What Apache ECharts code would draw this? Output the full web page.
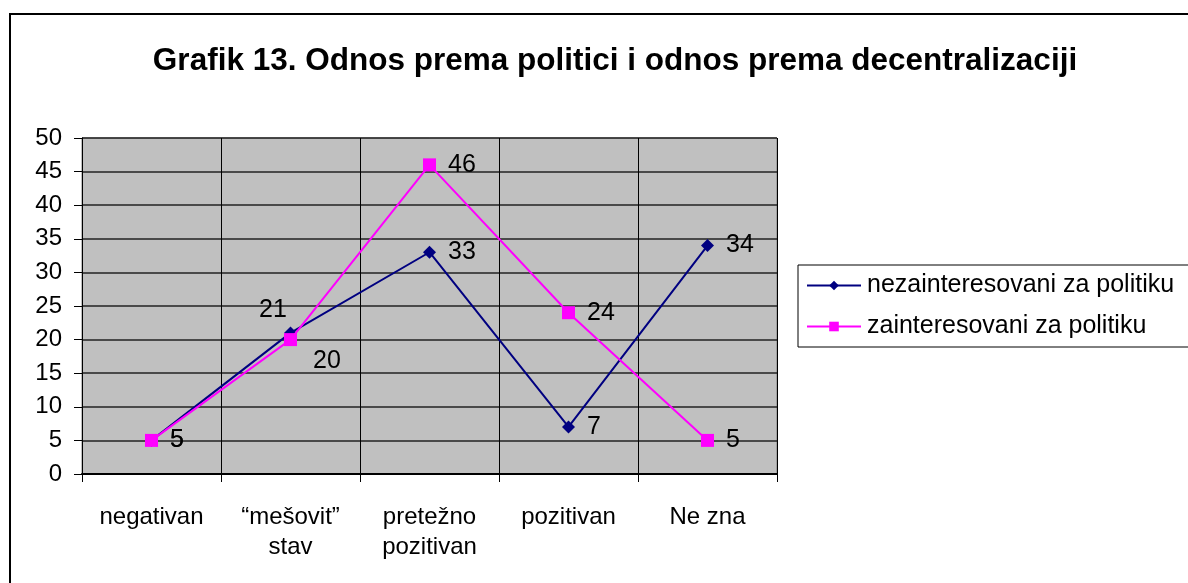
<!DOCTYPE html>
<html>
<head>
<meta charset="utf-8">
<script src="https://cdn.jsdelivr.net/npm/echarts@6/dist/echarts.min.js"></script>
<style>
  html, body { margin: 0; padding: 0; background: #fff; }
  #main { width: 1188px; height: 583px; }
</style>
</head>
<body>
<div id="main"></div>
<script>
const categories = ['negativan', '“mešovit”\nstav', 'pretežno\npozitivan', 'pozitivan', 'Ne zna']
const nezainteresovani = [5, 21, 33, 7, 34]
const zainteresovani = [5, 20, 46, 24, 5]
const yTicks = [0, 50, 5] // min, max, interval

const chart = echarts.init(document.getElementById('main'))
const font = 'Arial, "Liberation Sans", sans-serif'

chart.setOption({
  animation: false,
  title: {
    text: 'Grafik 13. Odnos prema politici i odnos prema decentralizaciji',
    left: 610,
    textAlign: 'center',
    top: 40,
    textStyle: { fontFamily: font, fontSize: 31.5, fontWeight: 'bold', color: '#000' }
  },
  graphic: [{
    type: 'rect',
    shape: { x: 10, y: 14, width: 1200, height: 600 },
    style: { fill: 'none', stroke: '#000', lineWidth: 2 },
    silent: true
  }],
  legend: {
    orient: 'vertical',
    left: 798,
    top: 265,
    padding: [8, 30, 8, 8],
    itemGap: 16,
    itemWidth: 54,
    itemHeight: 12,
    borderColor: '#000',
    borderWidth: 1,
    backgroundColor: '#fff',
    textStyle: { fontFamily: font, fontSize: 25, color: '#000', padding: [0, 0, 0, 1] },
    data: ['nezainteresovani za politiku', 'zainteresovani za politiku']
  },
  grid: {
    left: 82,
    right: 411,
    top: 138,
    bottom: 109,
    show: true,
    backgroundColor: '#c0c0c0',
    borderColor: '#808080',
    borderWidth: 1
  },
  xAxis: {
    type: 'category',
    data: categories,
    boundaryGap: true,
    axisLine: { lineStyle: { color: '#000', width: 2 } },
    axisTick: { show: true, length: 8, lineStyle: { color: '#000' } },
    splitLine: { show: true, lineStyle: { color: '#000', width: 1 } },
    axisLabel: {
      fontFamily: font, fontSize: 24, color: '#000',
      margin: 28, lineHeight: 30
    }
  },
  yAxis: {
    type: 'value',
    min: yTicks[0],
    max: yTicks[1],
    interval: yTicks[2],
    axisLine: { show: true, lineStyle: { color: '#000', width: 1 } },
    axisTick: { show: true, length: 8, lineStyle: { color: '#000' } },
    splitLine: { show: true, lineStyle: { color: '#222', width: 1.5 } },
    axisLabel: { fontFamily: font, fontSize: 24, color: '#000', margin: 20 }
  },
  series: [
    {
      name: 'nezainteresovani za politiku',
      type: 'line',
      data: nezainteresovani,
      symbol: 'diamond',
      symbolSize: 13,
      color: '#000080',
      lineStyle: { width: 2, color: '#000080' },
      label: {
        show: true,
        position: 'right',
        distance: 12,
        fontFamily: font, fontSize: 25, color: '#000'
      },
      labelLayout: function (p) {
        if (p.dataIndex === 1) return { dx: -50, dy: -23 }
        return {}
      },
      z: 3
    },
    {
      name: 'zainteresovani za politiku',
      type: 'line',
      data: zainteresovani,
      symbol: 'rect',
      symbolSize: 13,
      color: '#ff00ff',
      lineStyle: { width: 2, color: '#ff00ff' },
      label: {
        show: true,
        position: 'right',
        distance: 12,
        fontFamily: font, fontSize: 25, color: '#000'
      },
      labelLayout: function (p) {
        if (p.dataIndex === 1) return { dx: 4, dy: 22 }
        return {}
      },
      z: 4
    }
  ]
})
</script>
</body>
</html>
